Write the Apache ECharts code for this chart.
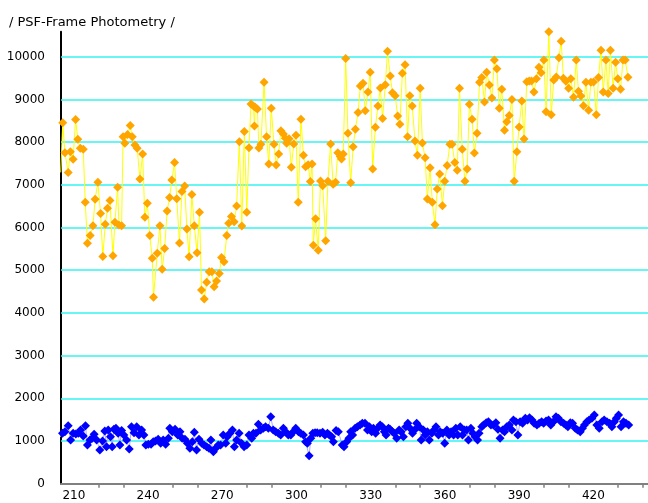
<!DOCTYPE html>
<html><head><meta charset="utf-8">
<script src="https://cdn.jsdelivr.net/npm/echarts@6/dist/echarts.min.js"></script>
<style>html,body{margin:0;padding:0;background:#fff}#c{width:648px;height:503px}</style>
</head><body><div id="c"></div>
<script>
const titleText = '/ PSF-Frame Photometry /';
const xTickLabels = [210,240,270,300,330,360,390,420];
const xMinorTicks = [220,230,250,260,280,290,310,320,340,350,370,380,400,410,430,440];
const yTicks = [0,1000,2000,3000,4000,5000,6000,7000,8000,9000,10000];

const orangeX = [204.7,205.5,206.4,207.7,208.6,209.7,210.7,211.6,212.6,213.8,214.6,215.5,216.6,217.7,218.6,219.7,220.8,221.7,222.7,223.6,224.6,225.8,226.6,227.7,228.2,229.3,229.9,230.6,231.7,232.8,233.6,234.7,235.6,236.7,237.8,238.7,239.7,240.7,241.7,242.2,
243.7,244.8,245.7,246.7,247.7,248.7,249.6,250.7,251.6,252.7,253.7,254.8,255.7,256.6,257.7,258.7,259.8,260.8,261.6,262.7,263.7,264.7,265.8,266.7,267.7,268.8,269.7,270.7,271.8,272.6,273.7,274.8,275.8,276.9,277.9,278.9,279.9,
280.8,281.6,282.6,283.0,283.3,284.2,284.8,285.6,286.9,287.9,288.8,289.8,290.9,291.8,292.8,293.7,294.7,295.5,296.0,297.0,297.9,298.9,299.8,300.7,301.8,302.8,303.7,304.7,305.6,306.3,
306.8,307.7,308.8,309.7,310.6,311.8,312.7,313.8,314.8,315.8,316.7,317.7,318.2,318.9,319.9,320.8,321.9,322.9,323.8,324.9,325.8,326.9,327.8,328.9,329.8,330.8,331.9,332.9,333.9,334.8,335.9,336.8,337.9,338.8,339.9,
340.9,341.8,342.8,343.9,344.9,345.8,346.8,347.9,
348.9,350.0,350.9,352.0,352.9,354.0,354.9,356.0,356.9,357.9,359.0,359.9,360.9,362.0,362.9,364.0,365.0,365.9,367.0,368.1,369.0,369.9,371.0,371.9,373.0,374.0,374.9,376.0,376.9,378.0,379.0,380.0,381.0,382.0,383.0,384.1,385.0,386.0,387.1,388.0,389.1,390.0,391.1,392.0,393.1,394.1,395.0,396.0,397.0,398.0,398.9,400.0,400.9,402.0,403.0,404.0,405.0,406.1,407.0,407.9,408.9,410.0,410.9,412.0,413.1,414.0,415.0,416.0,417.0,418.1,419.0,420.1,421.2,422.1,423.1,424.0,425.1,426.0,426.9,428.0,429.0,429.9,431.0,432.0,432.9,434.0];
const orangeY = [7290,8450,7750,7290,7775,7600,8530,8065,7855,7830,6590,5630,5810,6040,6660,7060,6330,5320,6075,6450,6630,5340,6120,6940,6060,6040,8125,7970,8180,8390,8125,7930,7855,7135,7720,6240,6570,5810,5280,4365,
5395,6040,5020,5510,6385,6705,7110,7520,6675,5635,6840,6970,5965,5315,6770,6040,5410,6355,4535,4325,4715,4965,4965,4615,4745,4925,5295,5200,5810,6100,6255,6135,6505,8010,6035,8245,6355,
7870,8890,8845,8375,8815,8775,7860,7950,9400,8125,7485,8790,7950,7465,7720,8265,8190,8090,7970,8080,7410,7955,8160,6590,8535,7690,7425,7470,7075,7485,
5585,6205,5465,7090,6980,5690,7080,7955,7010,7060,7750,7660,7605,7720,9955,8205,7050,7890,8300,8690,9315,9375,8735,9175,9635,7370,8345,8845,9265,8555,9345,10125,9550,9155,9085,
8610,8415,9610,9810,8125,9085,8845,8025,
7690,9260,7980,7635,6670,7400,6590,6065,6900,7255,6510,7080,7450,7950,7950,7520,7340,9260,7830,7080,7370,8885,8535,7745,8205,9400,9510,8940,9635,9335,9030,9920,9720,8790,9235,8275,8475,8620,9000,7080,7775,8355,8960,8070,9410,9430,9430,9175,9485,9750,9625,9920,8710,10585,8640,9455,9525,9975,10360,9495,9425,9260,9485,9050,9920,9190,9080,8850,9400,8745,9400,9405,8640,9510,10150,9175,9920,9135,10150,9260,9870,9485,9235,9920,9920,9520];

const blueX = [204.3,205.4,206.4,207.7,208.7,209.7,210.8,211.8,212.7,213.8,214.7,215.5,216.5,217.4,218.2,219.2,220.5,221.6,222.5,223.2,223.9,224.8,225.5,226.2,227.0,227.9,228.6,229.3,230.2,231.3,232.4,233.3,234.3,235.4,236.3,237.4,238.3,239.1,240.1,241.2,242.1,243.0,244.1,245.1,246.1,247.1,248.2,248.8,249.8,250.9,252.0,252.9,253.8,254.9,255.9,256.9,257.9,258.7,259.6,260.6,261.7,262.6,263.7,264.6,265.4,266.4,267.3,268.4,269.3,270.4,271.4,272.0,273.1,274.1,274.9,275.8,276.8,277.8,278.8,279.9,280.8,281.9,282.6,283.6,284.6,285.5,286.6,287.5,288.6,289.6,290.6,291.6,292.7,293.6,294.7,295.6,296.7,297.7,298.7,299.7,300.8,301.7,302.8,303.7,304.4,305.1,305.8,306.6,307.5,308.4,309.5,310.6,311.5,312.5,313.3,314.2,314.9,316.0,316.9,
318.5,319.2,320.3,321.2,321.9,322.7,323.7,324.6,325.7,326.6,327.7,328.7,329.5,330.4,331.1,332.0,332.8,333.8,334.7,335.5,336.2,337.2,337.8,338.8,339.5,340.5,341.5,342.3,343.2,344.2,345.0,345.9,346.9,347.7,348.6,349.6,350.4,351.3,352.0,352.9,353.7,354.7,355.6,356.4,357.4,358.1,359.1,359.9,360.8,361.7,362.5,363.5,364.4,365.2,366.2,367.1,367.9,368.8,369.5,370.5,371.3,372.2,373.2,373.8,374.9,375.6,376.7,377.6,378.6,379.6,380.6,381.4,382.3,383.3,384.1,385.0,386.0,387.1,387.7,388.7,389.5,390.4,391.4,392.5,393.4,394.2,395.2,396.1,397.2,398.1,399.1,399.9,400.9,401.9,402.8,403.9,404.9,405.9,406.9,408.0,408.9,409.7,410.7,411.6,412.7,413.6,414.7,415.6,416.4,417.4,418.3,419.4,420.4,421.4,422.4,423.5,424.4,425.5,426.6,427.5,428.5,429.3,430.2,431.2,432.2,433.2,434.3];
const blueY = [1086,1180,1219,1360,1024,1180,1164,1180,1258,1118,1360,907,1024,1063,1157,1024,790,1000,1235,868,1258,1102,868,1274,1297,1180,907,1243,1141,1024,813,1336,1196,1336,1141,1258,1141,907,922,922,985,1000,1039,946,1024,922,1063,1297,1219,1274,1141,1219,1063,1039,946,829,985,1203,790,1039,946,907,868,829,1024,751,829,907,907,1141,946,1102,1180,1258,868,1024,1180,946,868,907,1141,1063,1180,1180,1391,1258,1297,1336,1297,1570,1258,1219,1180,1141,1297,1219,1141,1141,1219,1297,1219,1180,1141,985,946,657,1063,1180,1196,1196,1180,1203,1141,1180,1141,1102,985,1243,1219,
907,868,985,1063,1219,1141,1297,1336,1375,1414,1414,1258,1336,1219,1297,1180,1297,1375,1336,1219,1141,1297,1274,1219,1180,1063,1258,1219,1102,1336,1414,1297,1180,1258,1414,1336,1024,1258,1141,1219,1024,1180,1258,1336,1141,1219,1180,946,1258,1141,1219,1141,1297,1141,1336,1141,1258,1258,1024,1297,1180,1102,1024,1180,1336,1375,1430,1453,1375,1375,1430,1274,1063,1258,1219,1336,1375,1258,1492,1453,1141,1453,1414,1531,1492,1547,1492,1414,1375,1414,1453,1414,1469,1492,1375,1453,1570,1531,1453,1414,1375,1336,1430,1414,1297,1258,1219,1297,1375,1453,1492,1531,1609,1375,1297,1453,1492,1453,1414,1336,1453,1531,1609,1336,1453,1414,1375];

const FONT = 'DejaVu Sans';
const orangeData = orangeX.map((x, i) => [x, orangeY[i]]);
const blueData = blueX.map((x, i) => [x, blueY[i]]);
const gridValues = yTicks.filter(v => v > 0);

const chart = echarts.init(document.getElementById('c'), null, {renderer: 'canvas'});
chart.setOption({
  animation: false,
  backgroundColor: '#ffffff',
  title: {
    text: titleText, left: 4, top: 11,
    textStyle: {fontFamily: FONT, fontSize: 13, fontWeight: 'normal', color: '#000'}
  },
  grid: {left: 61, right: 0, top: 31.7, bottom: 19.3, containLabel: false, outerBoundsMode: 'none'},
  xAxis: {
    type: 'value', min: 204.8, max: 442.1,
    axisLine: {show: true, lineStyle: {color: '#808080', width: 2}},
    axisTick: {show: true, length: 4, customValues: xMinorTicks, lineStyle: {color: '#808080', width: 1.5}},
    axisLabel: {customValues: xTickLabels, margin: 6, fontFamily: FONT, fontSize: 12, color: '#000',
      formatter: v => String(v)},
    splitLine: {show: false}
  },
  yAxis: {
    type: 'value', min: 0, max: 10585,
    axisLine: {show: true, onZero: false, lineStyle: {color: '#000', width: 2}},
    axisTick: {show: false, customValues: yTicks},
    axisLabel: {customValues: yTicks, margin: 16, fontFamily: FONT, fontSize: 12, color: '#000',
      formatter: v => String(v)},
    splitLine: {show: false}
  },
  series: [
    {
      type: 'line', data: blueData, symbol: 'diamond', symbolSize: 9,
      itemStyle: {color: '#0000ff'}, lineStyle: {color: '#a9a9ff', width: 1}, z: 3,
      markLine: {
        silent: true, symbol: 'none', z: 1, animation: false,
        label: {show: false},
        lineStyle: {color: '#33f3f3', width: 1.5, type: 'solid'},
        emphasis: {disabled: true},
        data: gridValues.map(v => ({yAxis: v}))
      }
    },
    {
      type: 'line', data: orangeData, symbol: 'diamond', symbolSize: 9,
      itemStyle: {color: '#ffa500'}, lineStyle: {color: '#ffff00', width: 1}, z: 4
    }
  ]
});
</script>
</body></html>
